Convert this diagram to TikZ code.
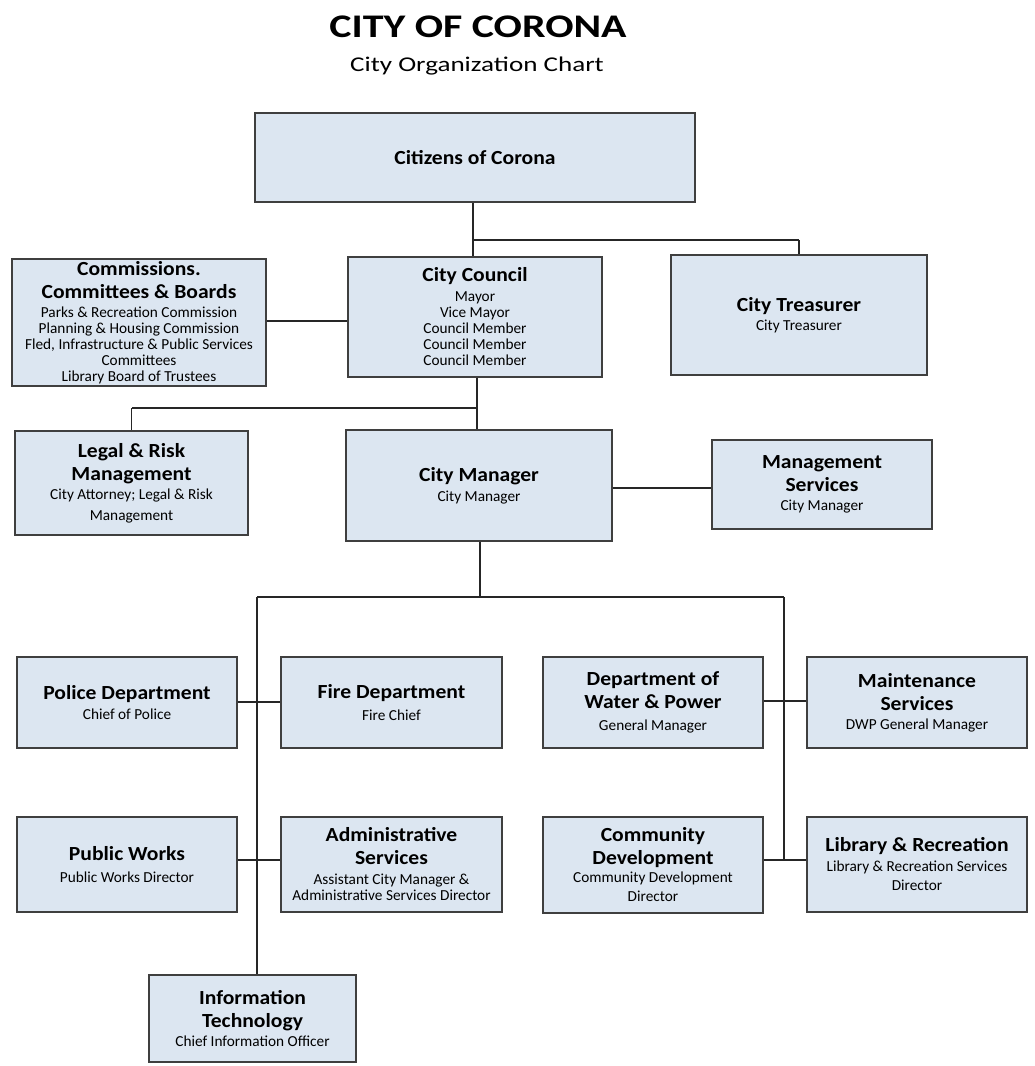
\documentclass[tikz,border=0pt]{standalone}
\usepackage{fontspec}
\setmainfont{Carlito}
\newfontfamily\widefont{Carlito}[FakeStretch=1.27]
\newfontfamily\subfont{Carlito}[FakeStretch=1.29]
\newfontfamily\hdfont{Carlito}[FakeStretch=1.08]
\usetikzlibrary{calc}

\definecolor{boxfill}{HTML}{DCE6F1}
\definecolor{boxline}{HTML}{3F3F3F}
\newcommand{\hd}[1]{{\fontsize{20}{23}\hdfont\bfseries #1}}
\newcommand{\boxtext}{\fontsize{15.3}{16}\selectfont\lineskiplimit=-30pt\relax}

\begin{document}
\begin{tikzpicture}[x=1pt,y=-1pt,thick,
    unit/.style={rectangle,draw=boxline,fill=boxfill,line width=1.3pt,align=center,inner sep=2pt,
        font=\boxtext},
    link/.style={draw=black!85,line width=1.1pt}]
\useasboundingbox (0,0) rectangle (1034,1066);

% title
\node[anchor=base,font=\fontsize{33}{36}\selectfont\widefont\bfseries] (title) at (478,37) {CITY OF CORONA};
\node[anchor=base,font=\fontsize{21}{24}\selectfont\subfont] (subtitle) at (477,71) {City Organization Chart};

% top
\node[unit,minimum width=440,minimum height=89] (citizens) at (475,157.5) {\hd{Citizens of Corona}};
\node[unit,minimum width=254,minimum height=127] (comm) at (139,322.5)
    {\hd{Commissions.}\\[7pt]\hd{Committees \& Boards}\\[3pt]Parks \& Recreation Commission\\Planning \& Housing Commission\\Fled, Infrastructure \& Public Services\\Committees\\Library Board of Trustees};
\node[unit,minimum width=254,minimum height=120] (council) at (475,317)
    {\hd{City Council}\\[4pt]Mayor\\Vice Mayor\\Council Member\\Council Member\\Council Member};
\node[unit,minimum width=256,minimum height=120] (treasurer) at (799,315)
    {\hd{City Treasurer}\\[3pt]City Treasurer};

% middle
\node[unit,minimum width=233,minimum height=104] (legal) at (131.5,483)
    {\hd{Legal \& Risk}\\[7pt]\hd{Management}\\[3pt]City Attorney; Legal \& Risk\\[5pt]Management};
\node[unit,minimum width=266,minimum height=111] (manager) at (479,485.5)
    {\hd{City Manager}\\[4pt]City Manager};
\node[unit,minimum width=220,minimum height=89] (mgmt) at (822,484.5)
    {\hd{Management}\\[7pt]\hd{Services}\\[3pt]City Manager};

% departments
\node[unit,minimum width=220,minimum height=91] (police) at (127,702.5)
    {\hd{Police Department}\\[4pt]Chief of Police};
\node[unit,minimum width=221,minimum height=91] (fire) at (391.5,702.5)
    {\hd{Fire Department}\\[6pt]Fire Chief};
\node[unit,minimum width=220,minimum height=95] (works) at (127,864.5)
    {\hd{Public Works}\\[6pt]Public Works Director};
\node[unit,minimum width=221,minimum height=95] (admin) at (391.5,864.5)
    {\hd{Administrative}\\[7pt]\hd{Services}\\[4pt]Assistant City Manager \&\\Administrative Services Director};
\node[unit,minimum width=207,minimum height=87] (infotech) at (252.5,1018.5)
    {\hd{Information}\\[7pt]\hd{Technology}\\[3pt]Chief Information Officer};
\node[unit,minimum width=220,minimum height=91] (water) at (653,702.5)
    {\hd{Department of}\\[7pt]\hd{Water \& Power}\\[6pt]General Manager};
\node[unit,minimum width=220,minimum height=91] (maint) at (917,702.5)
    {\hd{Maintenance}\\[7pt]\hd{Services}\\[3pt]DWP General Manager};
\node[unit,minimum width=220,minimum height=96] (comdev) at (653,865)
    {\hd{Community}\\[7pt]\hd{Development}\\[2pt]Community Development\\[3pt]Director};
\node[unit,minimum width=220,minimum height=95] (library) at (917,864.5)
    {\hd{Library \& Recreation}\\[4pt]Library \& Recreation Services\\[3pt]Director};

% junctions
\coordinate (j1) at (473,240);
\coordinate (j2) at (477,408);
\coordinate (j3) at (480,597);
\coordinate (trunkl) at (257,597);
\coordinate (trunkr) at (784,597);

\path[link]
    (citizens.south -| j1) edge (council.north -| j1)
    (j1) edge (j1 -| treasurer.north)
    (j1 -| treasurer.north) edge (treasurer.north)
    (comm.east |- 0,321) edge (council.west |- 0,321)
    (council.south -| j2) edge (manager.north -| j2)
    (j2) edge (j2 -| legal.north)
    (j2 -| legal.north) edge (legal.north)
    (manager.east |- 0,488) edge (mgmt.west |- 0,488)
    (manager.south -| j3) edge (j3)
    (trunkl) edge (trunkr)
    (trunkl) edge (infotech.north -| trunkl)
    (trunkr) edge (trunkr |- 0,860)
    (police.east |- 0,702) edge (fire.west |- 0,702)
    (works.east |- 0,860) edge (admin.west |- 0,860)
    (water.east |- 0,701) edge (maint.west |- 0,701)
    (comdev.east |- 0,860) edge (library.west |- 0,860)
    ;
\end{tikzpicture}
\end{document}
